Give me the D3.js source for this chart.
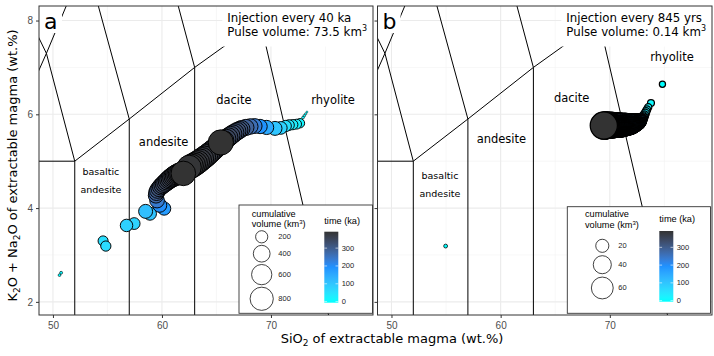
<!DOCTYPE html>
<html>
<head>
<meta charset="utf-8">
<script src="https://cdn.jsdelivr.net/npm/d3@7"></script>
<style>
  body { margin: 0; background: #fff; }
  svg { display: block; }
</style>
</head>
<body>
<svg id="chart" width="714" height="356" font-family="'DejaVu Sans', Verdana, sans-serif"></svg>
<script>
// axes
const xTicks = [50, 60, 70];
const xMinor = [55, 65, 75];
const yTicks = [2, 4, 6, 8];
const yMinor = [3, 5, 7];
const xDomain = [48.72, 79.36];
const yDomain = [1.72, 8.31];

// TAS field boundaries [SiO2, Na2O + K2O]
const tasLines = [
  [[45, 5], [52, 5], [52, 0]],
  [[57, 5.9], [57, 0]],
  [[63, 7], [63, 0]],
  [[69, 8], [77, 0]],
  [[52, 5], [57, 5.9], [63, 7], [69, 8]],
  [[45, 5], [49.4, 7.3], [52, 5]],
  [[49.4, 7.3], [53, 9.3], [57, 5.9]],
  [[53, 9.3], [57.6, 11.7], [63, 7]],
  [[45, 9.4], [49.4, 7.3]],
  [[69, 8], [71.8, 13.5]]
];

// field names [text, SiO2, alkali]
const fieldsA = [["andesite", 60.15, 5.40], ["dacite", 66.6, 6.31], ["rhyolite", 75.7, 6.31]];
const smallFieldsA = [["basaltic", 54.4, 4.77], ["andesite", 54.4, 4.40]];
const fieldsB = [["andesite", 60.07, 5.48], ["dacite", 66.5, 6.34], ["rhyolite", 75.7, 7.22]];
const smallFieldsB = [["basaltic", 54.44, 4.70], ["andesite", 54.44, 4.31]];

// extractable magma [SiO2, alkali, cumulative volume km3, time ka]
const seriesA_mafic = [
  [50.60, 2.57, 4, 2], [50.75, 2.62, 5, 6],
  [54.60, 3.30, 130, 55], [54.85, 3.19, 135, 60],
  [57.45, 3.67, 185, 75], [56.75, 3.63, 210, 80],
  [58.90, 3.88, 230, 105], [58.50, 3.93, 270, 112],
  [60.20, 3.99, 240, 175], [59.80, 4.06, 270, 200],
  [59.55, 4.16, 300, 240], [59.45, 4.27, 330, 275],
  [59.50, 4.33, 350, 295], [59.60, 4.38, 370, 308],
  [59.75, 4.42, 390, 318], [59.90, 4.46, 410, 326],
  [60.05, 4.49, 430, 333], [60.20, 4.52, 450, 339],
  [60.35, 4.55, 470, 344], [60.50, 4.58, 490, 349],
  [60.65, 4.61, 510, 354], [60.80, 4.635, 535, 358],
  [60.95, 4.66, 560, 362], [61.10, 4.68, 585, 366],
  [61.25, 4.70, 610, 370], [61.40, 4.715, 635, 374],
  [61.55, 4.73, 660, 378], [61.70, 4.735, 690, 382],
  [61.96, 4.74, 900, 392]
];
const seriesA_felsic = [
  [73.30, 6.05, 1, 0], [73.18, 6.01, 2, 2], [73.06, 5.97, 3, 4], [72.94, 5.93, 4, 7],
  [72.66, 5.81, 110, 16], [72.35, 5.79, 125, 24], [72.00, 5.78, 135, 32],
  [71.65, 5.77, 150, 42], [71.35, 5.75, 170, 55], [70.90, 5.71, 220, 78],
  [70.37, 5.70, 270, 100], [69.60, 5.72, 280, 150], [69.00, 5.74, 285, 190],
  [68.50, 5.75, 310, 235], [68.10, 5.74, 340, 265], [67.70, 5.72, 370, 290],
  [67.30, 5.69, 400, 310], [67.10, 5.665, 420, 316], [66.90, 5.64, 440, 322],
  [66.70, 5.61, 460, 327], [66.50, 5.58, 480, 332], [66.30, 5.545, 500, 337],
  [66.10, 5.51, 520, 341], [65.90, 5.475, 540, 345], [65.70, 5.44, 560, 349],
  [65.50, 5.40, 580, 352], [65.30, 5.36, 600, 355], [65.10, 5.32, 620, 358],
  [64.90, 5.28, 640, 361], [64.70, 5.24, 660, 364], [64.50, 5.20, 680, 367],
  [64.30, 5.16, 700, 370], [64.10, 5.12, 720, 372], [63.90, 5.085, 740, 374],
  [63.70, 5.05, 760, 376], [63.50, 5.015, 780, 378], [63.30, 4.98, 800, 380],
  [63.10, 4.95, 820, 382], [62.90, 4.92, 840, 384], [62.70, 4.895, 855, 386],
  [62.50, 4.87, 870, 388], [65.40, 5.40, 950, 392]
];
const seriesB_mafic = [[54.96, 3.19, 1, 0]];
const seriesB_felsic = [
  [74.82, 6.64, 3.5, 0], [73.77, 6.24, 4.5, 8], [73.52, 6.15, 5, 14],
  [73.40, 6.10, 5.5, 20], [73.32, 6.06, 6, 25], [73.24, 6.02, 7, 30],
  [73.16, 5.98, 8, 36], [73.08, 5.95, 9.5, 42], [73.00, 5.93, 11, 48],
  [72.90, 5.90, 14, 57], [72.85, 5.89, 17, 70], [72.80, 5.875, 19, 78],
  [72.75, 5.87, 22, 90], [72.70, 5.86, 25, 103], [72.65, 5.855, 27, 111],
  [72.60, 5.845, 29, 119], [72.55, 5.84, 31, 127], [72.50, 5.835, 33, 135],
  [72.45, 5.833, 34.5, 141], [72.40, 5.83, 36, 148], [72.35, 5.825, 37.5, 154],
  [72.30, 5.82, 39, 160], [72.25, 5.815, 41, 168], [72.20, 5.81, 42.5, 174],
  [72.15, 5.808, 44, 180], [72.10, 5.805, 46, 189], [72.05, 5.803, 48, 197],
  [72.00, 5.80, 49.5, 203], [71.95, 5.798, 51, 209], [71.90, 5.795, 52, 213],
  [71.85, 5.793, 53.5, 219], [71.80, 5.79, 55, 226], [71.75, 5.789, 56, 230],
  [71.70, 5.788, 57, 234], [71.65, 5.786, 58, 238], [71.60, 5.785, 59, 242],
  [71.55, 5.784, 60, 246], [71.50, 5.783, 61, 250], [71.45, 5.782, 62, 254],
  [71.40, 5.78, 63, 258], [71.35, 5.779, 64, 262], [71.30, 5.778, 65, 267],
  [71.25, 5.777, 66, 271], [71.20, 5.775, 67, 275], [71.15, 5.774, 68, 279],
  [71.10, 5.772, 69, 283], [71.05, 5.771, 70, 287], [71.00, 5.77, 71, 291],
  [70.95, 5.77, 71.8, 294], [70.90, 5.77, 72.5, 297], [70.85, 5.77, 73.2, 300],
  [70.80, 5.77, 74, 303], [70.75, 5.77, 74.7, 306], [70.70, 5.77, 75.4, 309],
  [70.65, 5.77, 76, 312], [70.60, 5.77, 76.7, 314], [70.55, 5.77, 77.4, 317],
  [70.50, 5.77, 78, 320], [70.45, 5.77, 78.7, 323], [70.40, 5.77, 79.4, 326],
  [70.35, 5.77, 80, 328], [70.30, 5.77, 80.7, 331], [70.25, 5.77, 81.4, 334],
  [70.20, 5.77, 82, 336], [70.15, 5.77, 82.7, 339], [70.10, 5.77, 83.4, 342],
  [70.05, 5.77, 84, 344], [70.00, 5.768, 84.7, 347], [69.95, 5.767, 85.4, 350],
  [69.90, 5.766, 86, 353], [69.85, 5.765, 87, 357], [69.80, 5.764, 88, 361],
  [69.75, 5.763, 89, 365], [69.70, 5.762, 90, 369], [69.65, 5.762, 91, 373],
  [69.60, 5.761, 92, 377], [69.55, 5.761, 93, 381], [69.50, 5.76, 94, 386],
  [69.45, 5.76, 95, 392]
];

// legends
const sizeBreaksA = [200, 400, 600, 800];
const sizeBreaksB = [20, 40, 60];
const timeBreaks = [0, 100, 200, 300];
const timeRange = [-6, 392];

const notesA = [["Injection every 40 ka"], ["Pulse volume: 73.5 km", "3"]];
const notesB = [["Injection every 845 yrs"], ["Pulse volume: 0.14 km", "3"]];

(function() {
const svg = d3.select("#chart");
const pTop = 6, pBottom = 315;
const sansFont = "'Liberation Sans', Arial, sans-serif";

const timeColor = d3.scaleLinear()
  .domain([0, 196, 392])
  .range(["#00FFFF", "#1E90FF", "#333333"])
  .interpolate(d3.interpolateLab);

const panels = [
  {
    id: "a", left: 39, right: 373, yLabels: true, stroke: 0.95,
    fields: fieldsA, small: smallFieldsA,
    points: seriesA_mafic.concat(seriesA_felsic),
    size: d3.scaleSqrt().domain([0, 950]).range([2, 26]),
    sizeBreaks: sizeBreaksA, notes: notesA,
    legend: { x0: 239, y0: 205, x1: 372.5, y1: 313.3, titleX: 251.7, titleY: 216.5,
      keyX: 261.7, keyTop: 229.5, keyPad: 1.6, labelX: 278.3,
      barX: 324.3, barTop: 231.7, barBottom: 302.7, barTitleY: 224, barLabelX: 341.7 }
  },
  {
    id: "b", left: 377.5, right: 712, yLabels: false, stroke: 1.25,
    fields: fieldsB, small: smallFieldsB,
    points: seriesB_mafic.concat(seriesB_felsic),
    size: d3.scaleSqrt().domain([0, 95]).range([2, 28]),
    sizeBreaks: sizeBreaksB, notes: notesB,
    legend: { x0: 567.3, y0: 206.7, x1: 710.5, y1: 313.3, titleX: 585, titleY: 217.3,
      keyX: 602.3, keyTop: 237.6, keyPad: 2.5, labelX: 618.3,
      barX: 659.3, barTop: 231, barBottom: 301.7, barTitleY: 221.7, barLabelX: 676.7 }
  }
];

const defs = svg.append("defs");
const grad = defs.append("linearGradient").attr("id", "timegrad")
  .attr("x1", 0).attr("y1", 1).attr("x2", 0).attr("y2", 0);
d3.range(0, 1.0001, 0.05).forEach(f => {
  const t = timeRange[0] + f * (timeRange[1] - timeRange[0]);
  grad.append("stop").attr("offset", f).attr("stop-color", timeColor(Math.max(0, t)));
});

panels.forEach(p => {
  const x = d3.scaleLinear().domain(xDomain).range([p.left, p.right]);
  const y = d3.scaleLinear().domain(yDomain).range([pBottom, pTop]);
  const g = svg.append("g");

  defs.append("clipPath").attr("id", "clip-" + p.id).append("rect")
    .attr("x", p.left).attr("y", pTop).attr("width", p.right - p.left).attr("height", pBottom - pTop);
  const inner = g.append("g").attr("clip-path", `url(#clip-${p.id})`);

  // grid
  inner.selectAll(null).data(xMinor).join("line")
    .attr("x1", d => x(d)).attr("x2", d => x(d)).attr("y1", pTop).attr("y2", pBottom)
    .attr("stroke", "#F2F2F2").attr("stroke-width", 0.6);
  inner.selectAll(null).data(yMinor).join("line")
    .attr("y1", d => y(d)).attr("y2", d => y(d)).attr("x1", p.left).attr("x2", p.right)
    .attr("stroke", "#F2F2F2").attr("stroke-width", 0.6);
  inner.selectAll(null).data(xTicks).join("line")
    .attr("x1", d => x(d)).attr("x2", d => x(d)).attr("y1", pTop).attr("y2", pBottom)
    .attr("stroke", "#EBEBEB").attr("stroke-width", 1.1);
  inner.selectAll(null).data(yTicks).join("line")
    .attr("y1", d => y(d)).attr("y2", d => y(d)).attr("x1", p.left).attr("x2", p.right)
    .attr("stroke", "#EBEBEB").attr("stroke-width", 1.1);

  // TAS lines
  const line = d3.line().x(d => x(d[0])).y(d => y(d[1]));
  inner.selectAll(null).data(tasLines).join("path")
    .attr("d", line).attr("fill", "none").attr("stroke", "#000").attr("stroke-width", 1);

  // field names
  inner.selectAll(null).data(p.fields).join("text")
    .attr("x", d => x(d[1])).attr("y", d => y(d[2]))
    .attr("text-anchor", "middle").attr("dominant-baseline", "central")
    .attr("font-size", 11.5).text(d => d[0]);
  inner.selectAll(null).data(p.small).join("text")
    .attr("x", d => x(d[1])).attr("y", d => y(d[2]))
    .attr("text-anchor", "middle").attr("dominant-baseline", "central")
    .attr("font-size", 9.5).text(d => d[0]);

  // points, oldest first
  const pts = p.points.slice().sort((a, b) => a[3] - b[3]);
  const rad = d => Math.max(1, p.size(d[2]) / 2 - 0.4);
  inner.selectAll(null).data(pts).join("circle")
    .attr("cx", d => x(d[0])).attr("cy", d => y(d[1]))
    .attr("r", rad)
    .attr("fill", d => timeColor(d[3]))
    .attr("stroke", "#000").attr("stroke-width", d => Math.min(p.stroke, rad(d) * 0.4));

  // panel letter
  inner.append("rect").attr("x", p.left).attr("y", pTop).attr("width", 23).attr("height", 27).attr("fill", "#fff");
  inner.append("text").attr("x", p.left + 5).attr("y", 28.5).attr("font-size", 22).text(p.id);

  // injection note
  const note = inner.append("g");
  const box = note.append("rect").attr("fill", "#fff");
  const lines = p.notes.map((ln, i) => {
    const t = note.append("text").attr("y", 21.7 + i * 14).attr("font-size", 11.8);
    t.append("tspan").text(ln[0]);
    if (ln[1]) t.append("tspan").attr("font-size", 8).attr("dy", -4.5).text(ln[1]);
    return t;
  });
  const w = d3.max(lines, t => t.node().getComputedTextLength());
  const x0 = p.right - 6 - w;
  lines.forEach(t => t.attr("x", x0));
  box.attr("x", x0 - 5).attr("y", pTop).attr("width", p.right - x0 + 5).attr("height", 46.5 - pTop);

  // legend
  const L = p.legend;
  const lg = g.append("g").attr("font-family", sansFont);
  lg.append("rect").attr("x", L.x0).attr("y", L.y0).attr("width", L.x1 - L.x0).attr("height", L.y1 - L.y0)
    .attr("fill", "#fff").attr("stroke", "#333").attr("stroke-width", 0.9);
  lg.append("text").attr("x", L.titleX).attr("y", L.titleY).attr("font-size", 9.2).text("cumulative");
  const vt = lg.append("text").attr("x", L.titleX).attr("y", L.titleY + 10.7).attr("font-size", 9.2);
  vt.append("tspan").text("volume (km");
  vt.append("tspan").attr("font-size", 6).attr("dy", -3.5).text("3");
  vt.append("tspan").attr("dy", 3.5).text(")");

  let ky = L.keyTop;
  p.sizeBreaks.forEach(v => {
    const d = p.size(v);
    const cy = ky + (d + L.keyPad) / 2;
    ky += d + L.keyPad;
    lg.append("circle").attr("cx", L.keyX).attr("cy", cy).attr("r", d / 2 - 0.4)
      .attr("fill", "none").attr("stroke", "#111").attr("stroke-width", 0.8);
    lg.append("text").attr("x", L.labelX).attr("y", cy).attr("dominant-baseline", "central")
      .attr("font-size", 7.5).attr("fill", "#222").text(v);
  });

  const by = d3.scaleLinear().domain(timeRange).range([L.barBottom, L.barTop]);
  lg.append("text").attr("x", L.barX).attr("y", L.barTitleY).attr("font-size", 9.2).text("time (ka)");
  lg.append("rect").attr("x", L.barX).attr("y", L.barTop).attr("width", 14)
    .attr("height", L.barBottom - L.barTop).attr("fill", "url(#timegrad)");
  timeBreaks.forEach(t => {
    lg.append("line").attr("x1", L.barX).attr("x2", L.barX + 2.8).attr("y1", by(t)).attr("y2", by(t))
      .attr("stroke", "#fff").attr("stroke-width", 0.6);
    lg.append("line").attr("x1", L.barX + 11.2).attr("x2", L.barX + 14).attr("y1", by(t)).attr("y2", by(t))
      .attr("stroke", "#fff").attr("stroke-width", 0.6);
    lg.append("text").attr("x", L.barLabelX).attr("y", by(t)).attr("dominant-baseline", "central")
      .attr("font-size", 7.5).attr("fill", "#222").text(t);
  });

  // border
  g.append("rect").attr("x", p.left).attr("y", pTop).attr("width", p.right - p.left).attr("height", pBottom - pTop)
    .attr("fill", "none").attr("stroke", "#333").attr("stroke-width", 1);

  // axes
  g.append("g").attr("transform", `translate(0,${pBottom})`)
    .attr("font-family", sansFont).attr("font-size", 11.5)
    .call(d3.axisBottom(x).tickValues(xTicks).tickSize(3).tickPadding(4))
    .call(a => a.select(".domain").remove())
    .call(a => a.selectAll("line").attr("stroke", "#333"))
    .call(a => a.selectAll("text").attr("fill", "#4D4D4D"));
  g.append("g").attr("transform", `translate(${p.left},0)`)
    .attr("font-family", sansFont).attr("font-size", 11.5)
    .call(d3.axisLeft(y).tickValues(yTicks).tickSize(3).tickPadding(3)
      .tickFormat(p.yLabels ? d3.format("d") : () => ""))
    .call(a => a.select(".domain").remove())
    .call(a => a.selectAll("line").attr("stroke", "#333"))
    .call(a => a.selectAll("text").attr("fill", "#4D4D4D"));
});

// axis titles
const xt = svg.append("text").attr("x", 392).attr("y", 343).attr("text-anchor", "middle").attr("font-size", 13);
xt.append("tspan").text("SiO");
xt.append("tspan").attr("font-size", 9).attr("dy", 3).text("2");
xt.append("tspan").attr("dy", -3).text(" of extractable magma (wt.%)");

const yt = svg.append("text").attr("transform", "translate(17,165.5) rotate(-90)")
  .attr("text-anchor", "middle").attr("font-size", 13);
yt.append("tspan").text("K");
yt.append("tspan").attr("font-size", 9).attr("dy", 3).text("2");
yt.append("tspan").attr("dy", -3).text("O + Na");
yt.append("tspan").attr("font-size", 9).attr("dy", 3).text("2");
yt.append("tspan").attr("dy", -3).text("O of extractable magma (wt.%)");
})();
</script>
</body>
</html>
